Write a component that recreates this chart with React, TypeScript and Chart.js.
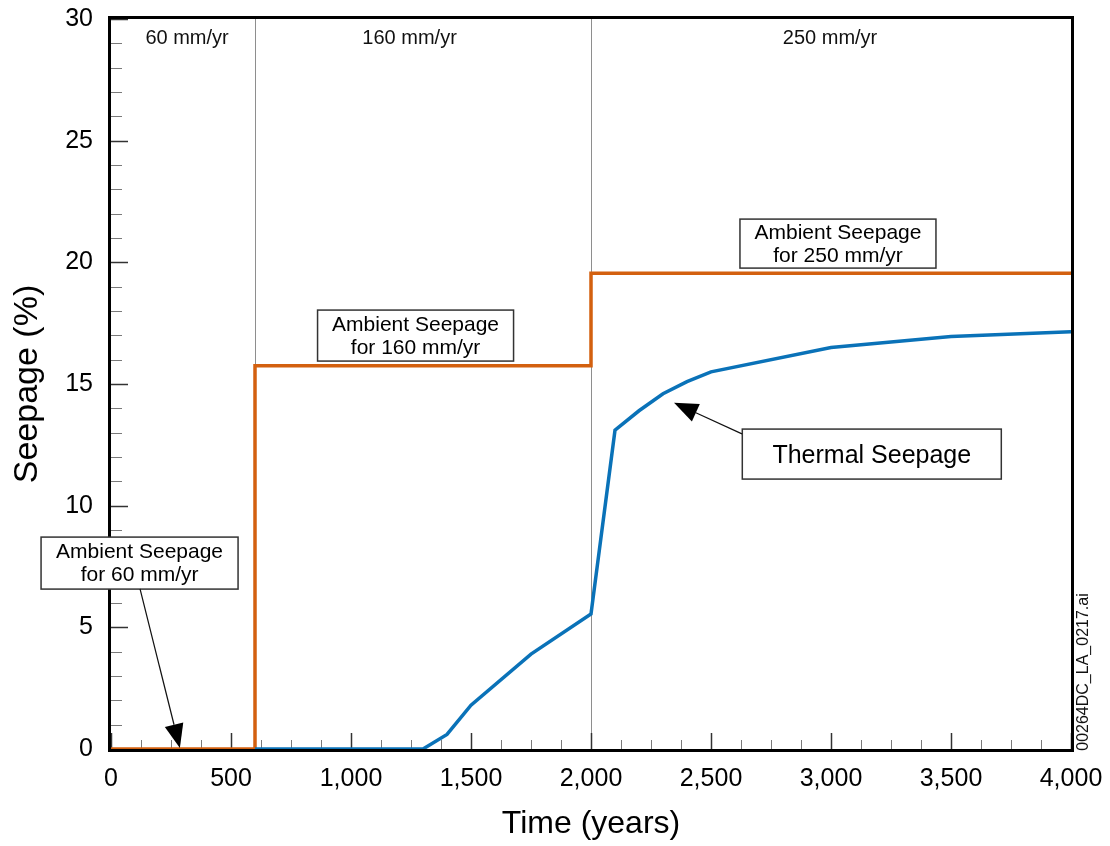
import { useEffect, useRef } from 'react';
import { Chart, registerables } from 'chart.js';

Chart.register(...registerables);

// ---- data ----
const ambientYears = [0, 600, 600, 2000, 2000, 4000];
const ambientSeepage = [0, 0, 15.75, 15.75, 19.55, 19.55];

const thermalYears = [600, 1300, 1400, 1500, 1750, 2000, 2100, 2200, 2300, 2400, 2500, 3000, 3500, 4000];
const thermalSeepage = [0, 0, 0.6, 1.8, 3.9, 5.55, 13.1, 13.9, 14.6, 15.1, 15.5, 16.5, 16.95, 17.15];

const periodBoundaries = [600, 2000];
const periodLabels = ['60 mm/yr', '160 mm/yr', '250 mm/yr'];
const periodLabelYears = [317, 1244, 2996];

const calloutTexts = [
  ['Ambient Seepage', 'for 60 mm/yr'],
  ['Ambient Seepage', 'for 160 mm/yr'],
  ['Ambient Seepage', 'for 250 mm/yr'],
  ['Thermal Seepage'],
];
const calloutYears = [119, 1269, 3029, 3170];
const calloutValues = [7.64, 16.99, 20.77, 12.12];

const arrowTailYears = [121, 2629];
const arrowTailValues = [6.58, 12.95];
const arrowTipYears = [287, 2346];
const arrowTipValues = [0.04, 14.23];

const xMin = 0, xMax = 4000, xMajor = 500, xMinor = 125;
const yMin = 0, yMax = 30, yMajor = 5, yMinor = 1;

const fileTag = '00264DC_LA_0217.ai';

const FONT = '"Liberation Sans", Arial, Helvetica, sans-serif';

function drawArrow(ctx: CanvasRenderingContext2D, x1: number, y1: number, x2: number, y2: number) {
  const headLen = 24;
  const headHalf = 9.5;
  const dx = x2 - x1, dy = y2 - y1;
  const len = Math.hypot(dx, dy);
  const ux = dx / len, uy = dy / len;
  const bx = x2 - ux * headLen, by = y2 - uy * headLen;
  ctx.strokeStyle = '#111';
  ctx.lineWidth = 1.2;
  ctx.beginPath();
  ctx.moveTo(x1, y1);
  ctx.lineTo(bx, by);
  ctx.stroke();
  ctx.fillStyle = '#000';
  ctx.beginPath();
  ctx.moveTo(x2, y2);
  ctx.lineTo(bx - uy * headHalf, by + ux * headHalf);
  ctx.lineTo(bx + uy * headHalf, by - ux * headHalf);
  ctx.closePath();
  ctx.fill();
}

const overlayPlugin = {
  id: 'overlay',
  beforeDatasetsDraw(chart: any) {
    const { ctx, chartArea: a, scales } = chart;
    const x = scales.x, y = scales.y;
    ctx.save();
    // period boundaries
    ctx.strokeStyle = '#8e8e8e';
    ctx.lineWidth = 1;
    periodBoundaries.forEach((v) => {
      const px = Math.round(x.getPixelForValue(v)) + 0.5;
      ctx.beginPath();
      ctx.moveTo(px, a.top);
      ctx.lineTo(px, a.bottom);
      ctx.stroke();
    });
    // inward ticks, x
    for (let v = xMin; v <= xMax; v += xMinor) {
      const major = v % xMajor === 0;
      const px = Math.round(x.getPixelForValue(v)) + 0.5;
      ctx.strokeStyle = major ? '#333' : '#7a7a7a';
      ctx.lineWidth = major ? 1.5 : 1;
      ctx.beginPath();
      ctx.moveTo(px, a.bottom);
      ctx.lineTo(px, a.bottom - (major ? 16 : 9));
      ctx.stroke();
    }
    // inward ticks, y
    for (let v = yMin; v <= yMax; v += yMinor) {
      const major = v % yMajor === 0;
      const py = Math.round(y.getPixelForValue(v)) + 0.5;
      ctx.strokeStyle = major ? '#333' : '#7a7a7a';
      ctx.lineWidth = major ? 1.5 : 1;
      ctx.beginPath();
      ctx.moveTo(a.left, py);
      ctx.lineTo(a.left + (major ? 17 : 11), py);
      ctx.stroke();
    }
    // frame
    ctx.strokeStyle = '#000';
    ctx.lineWidth = 3;
    ctx.strokeRect(a.left - 1.5, a.top - 1.5, a.width + 3, a.height + 3);
    // period labels
    ctx.fillStyle = '#111';
    ctx.font = `20px ${FONT}`;
    ctx.textAlign = 'center';
    ctx.textBaseline = 'alphabetic';
    periodLabels.forEach((t, i) => {
      ctx.fillText(t, x.getPixelForValue(periodLabelYears[i]), a.top + 25);
    });
    ctx.restore();
  },
  afterDatasetsDraw(chart: any) {
    const { ctx, chartArea: a, scales } = chart;
    const x = scales.x, y = scales.y;
    ctx.save();
    const sizes = [[197, 52], [196, 51], [196, 49], [259, 50]];
    calloutTexts.forEach((lines, i) => {
      const cx = x.getPixelForValue(calloutYears[i]);
      const cy = y.getPixelForValue(calloutValues[i]);
      const [w, h] = sizes[i];
      ctx.fillStyle = '#fff';
      ctx.fillRect(cx - w / 2, cy - h / 2, w, h);
      ctx.strokeStyle = '#333';
      ctx.lineWidth = 1.5;
      ctx.strokeRect(cx - w / 2, cy - h / 2, w, h);
      ctx.fillStyle = '#000';
      ctx.textAlign = 'center';
      ctx.textBaseline = 'alphabetic';
      if (lines.length === 2) {
        ctx.font = `21px ${FONT}`;
        ctx.fillText(lines[0], cx, cy - 5);
        ctx.fillText(lines[1], cx, cy + 18);
      } else {
        ctx.font = `25px ${FONT}`;
        ctx.fillText(lines[0], cx, cy + 8.5);
      }
    });
    arrowTailYears.forEach((_, i) => {
      drawArrow(
        ctx,
        x.getPixelForValue(arrowTailYears[i]),
        y.getPixelForValue(arrowTailValues[i]),
        x.getPixelForValue(arrowTipYears[i]),
        y.getPixelForValue(arrowTipValues[i])
      );
    });
    // file tag, rotated
    ctx.translate(a.right + 12.5, a.bottom - 77);
    ctx.rotate(-Math.PI / 2);
    ctx.font = `16px ${FONT}`;
    ctx.fillStyle = '#111';
    ctx.textAlign = 'center';
    ctx.textBaseline = 'middle';
    ctx.fillText(fileTag, 0, 0);
    ctx.restore();
  },
};

export default function App() {
  const canvasRef = useRef<HTMLCanvasElement | null>(null);

  useEffect(() => {
    document.body.style.margin = '0';
    const canvas = canvasRef.current;
    if (!canvas) return;
    const chart = new Chart(canvas, {
      type: 'line',
      data: {
        datasets: [
          {
            label: 'Thermal Seepage',
            data: thermalYears.map((t, i) => ({ x: t, y: thermalSeepage[i] })),
            borderColor: '#0A72B8',
            borderWidth: 3.5,
            pointRadius: 0,
            tension: 0,
            fill: false,
          },
          {
            label: 'Ambient Seepage',
            data: ambientYears.map((t, i) => ({ x: t, y: ambientSeepage[i] })),
            borderColor: '#D3600F',
            borderWidth: 3.5,
            pointRadius: 0,
            tension: 0,
            fill: false,
          },
        ],
      },
      options: {
        animation: false,
        responsive: true,
        maintainAspectRatio: false,
        layout: { padding: { top: 19, right: 39, left: 0, bottom: 0 } },
        plugins: { legend: { display: false }, tooltip: { enabled: false } },
        scales: {
          x: {
            type: 'linear',
            min: xMin,
            max: xMax,
            afterFit: (s: any) => {
              s.height = 97;
              s.paddingLeft = 0;
              s.paddingRight = 0;
            },
            ticks: {
              stepSize: xMajor,
              autoSkip: false,
              maxRotation: 0,
              padding: 15,
              color: '#000',
              font: { family: FONT, size: 25 },
              callback: (v: any) => Number(v).toLocaleString('en-US'),
            },
            grid: { drawOnChartArea: false, drawTicks: false },
            border: { display: false },
            title: {
              display: true,
              text: 'Time (years)',
              color: '#000',
              font: { family: FONT, size: 32 },
              padding: { top: 0, bottom: 3 },
            },
          },
          y: {
            type: 'linear',
            min: yMin,
            max: yMax,
            afterFit: (s: any) => {
              s.width = 111;
              s.paddingTop = 0;
              s.paddingBottom = 0;
            },
            ticks: {
              stepSize: yMajor,
              padding: 18,
              color: '#000',
              font: { family: FONT, size: 25 },
            },
            grid: { drawOnChartArea: false, drawTicks: false },
            border: { display: false },
            title: {
              display: true,
              text: 'Seepage (%)',
              color: '#000',
              font: { family: FONT, size: 34 },
              padding: { top: 7, bottom: 0 },
            },
          },
        },
      },
      plugins: [overlayPlugin],
    });
    return () => chart.destroy();
  }, []);

  return (
    <div style={{ position: 'fixed', left: 0, top: 0, width: 1110, height: 846, background: '#fff' }}>
      <canvas ref={canvasRef} />
    </div>
  );
}
